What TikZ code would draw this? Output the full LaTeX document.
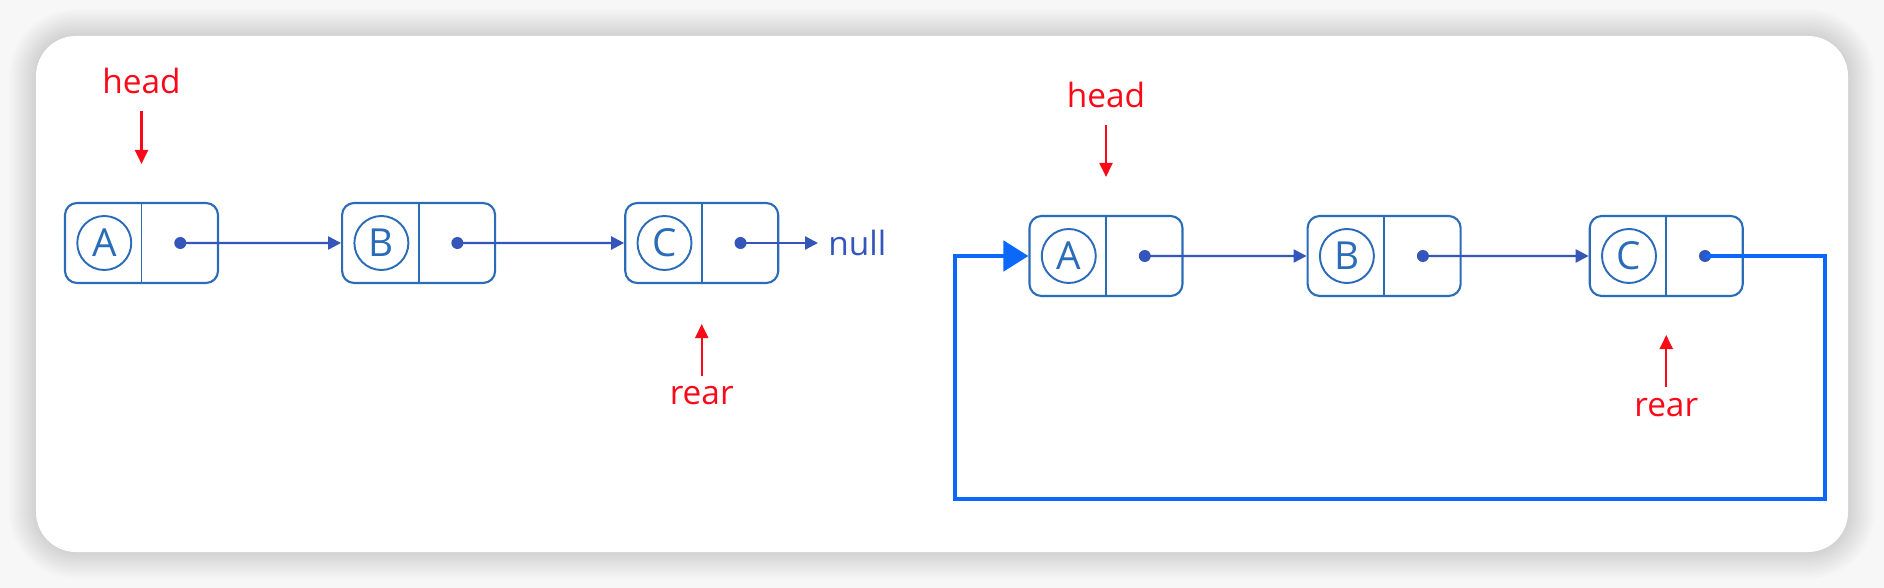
\documentclass[tikz,border=0pt]{standalone}
\usepackage{fontspec}
\setmainfont{Open Sans}
\usetikzlibrary{arrows.meta,positioning,calc}
\definecolor{NodeBlue}{RGB}{43,108,184}
\definecolor{LinkBlue}{RGB}{52,86,186}
\definecolor{LoopBlue}{RGB}{12,104,250}
\definecolor{MarkRed}{RGB}{250,10,25}
\definecolor{PageGray}{RGB}{247,247,247}
\tikzset{
  listbox/.style={draw=NodeBlue,line width=1.2pt,rounded corners=2.4mm,
    minimum width=3.06cm,minimum height=1.6cm,inner sep=0pt},
  keycircle/.style={draw=NodeBlue,line width=1.1pt,circle,minimum size=1.08cm,
    inner sep=0pt,text=NodeBlue,font=\fontsize{22}{26}\selectfont},
  ptrdot/.style={circle,fill=LinkBlue,minimum size=0.24cm,inner sep=0pt},
  linkarrow/.style={-{Triangle[length=2.6mm,width=2.6mm]},
    line width=1.3pt,draw=LinkBlue},
  markarrow/.style={-{Triangle[length=2.8mm,width=2.6mm]},
    line width=1.2pt,draw=MarkRed},
  marklabel/.style={text=MarkRed,font=\fontsize{19}{23}\selectfont,inner sep=0pt},
  nulllabel/.style={text=LinkBlue,font=\fontsize{19}{23}\selectfont,inner sep=0pt},
  looparrow/.style={-{Triangle[length=5mm,width=6mm]},
    line width=2.6pt,draw=LoopBlue},
}

\begin{document}
\begin{tikzpicture}
  \useasboundingbox[fill=PageGray] (0,0) rectangle (37.68,-11.76);
  % soft shadow round the card
  \foreach \i in {1,...,18}{
    \fill[black,opacity=0.009,rounded corners={8mm+\i*0.3mm}]
      ($(0.72,-0.72)+(-\i*0.03,\i*0.03)$) rectangle ($(36.96,-11.04)+(\i*0.03,-\i*0.03)$);
  }
  \fill[white,rounded corners=8mm] (0.72,-0.72) rectangle (36.96,-11.04);

  % singly linked list
  \node[listbox] (la) at (2.83,-4.86) {};
  \node[listbox,right=2.44cm of la] (lb) {};
  \node[listbox,right=2.56cm of lb] (lc) {};

  % circular list
  \node[listbox] (ra) at (22.12,-5.12) {};
  \node[listbox,right=2.46cm of ra] (rb) {};
  \node[listbox,right=2.54cm of rb] (rc) {};

  \foreach \n/\k in {la/A,lb/B,lc/C,ra/A,rb/B,rc/C}{
    \draw[NodeBlue,line width=1.1pt] (\n.north) -- (\n.south);
    \node[keycircle] (\n-key) at ($(\n.center)!0.48!(\n.west)$) {\k};
    \node[ptrdot] (\n-ptr) at ($(\n.center)!0.5!(\n.east)$) {};
  }

  \draw[linkarrow] (la-ptr.center) -- (lb.west);
  \draw[linkarrow] (lb-ptr.center) -- (lc.west);
  \node[nulllabel,anchor=west] (null) at (16.56,-4.86) {null};
  \draw[linkarrow] (lc-ptr.center) -- ([xshift=-0.2cm]lc-ptr.center -| null.west);

  \draw[linkarrow] (ra-ptr.center) -- (rb.west);
  \draw[linkarrow] (rb-ptr.center) -- (rc.west);

  % head / rear pointers
  \node[marklabel,above=2.16cm of la] (lhead) {head};
  \draw[markarrow] ([yshift=-0.34cm]la.north |- lhead.south) -- ([yshift=0.76cm]la.north);
  \node[marklabel,below=2.04cm of lc] (lrear) {rear};
  \draw[markarrow] ([yshift=0.2cm]lc.south |- lrear.north) -- ([yshift=-0.8cm]lc.south);

  \node[marklabel,above=2.14cm of ra] (rhead) {head};
  \draw[markarrow] ([yshift=-0.34cm]ra.north |- rhead.south) -- ([yshift=0.76cm]ra.north);
  \node[marklabel,below=2.02cm of rc] (rrear) {rear};
  \draw[markarrow] ([yshift=0.22cm]rc.south |- rrear.north) -- ([yshift=-0.76cm]rc.south);

  % back link
  \coordinate (loop-r) at (36.5,-9.98);
  \coordinate (loop-l) at (19.1,-9.98);
  \draw[looparrow] (rc-ptr.center) -| (loop-r) -- (loop-l) |- (ra.west);
\end{tikzpicture}
\end{document}
